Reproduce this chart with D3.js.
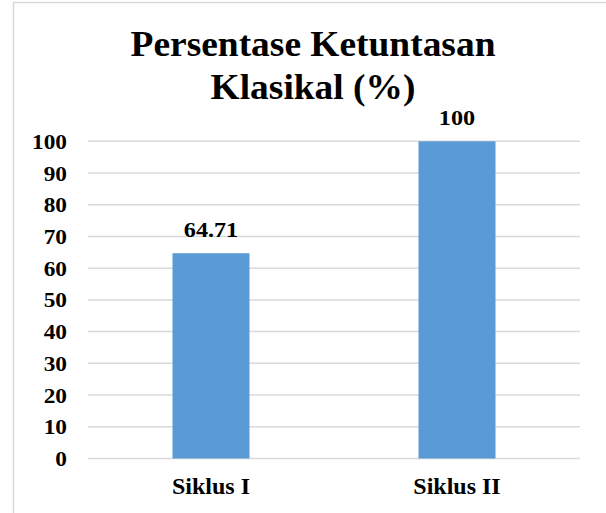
<!DOCTYPE html>
<html>
<head>
<meta charset="utf-8">
<script src="https://cdn.jsdelivr.net/npm/d3@7"></script>
<style>
html,body{margin:0;padding:0;background:#fff;}
svg{display:block;}
text{font-family:"Liberation Serif","Times New Roman",serif;font-weight:bold;fill:#000;}
</style>
</head>
<body>
<script>
const categories = ["Siklus I", "Siklus II"];
const values = [64.71, 100];
const valueLabels = ["64.71", "100"];
const yTicks = [0,10,20,30,40,50,60,70,80,90,100];
const titleLines = ["Persentase Ketuntasan", "Klasikal (%)"];

const W = 606, H = 513;
const svg = d3.select("body").append("svg").attr("width", W).attr("height", H);

// outer border
svg.append("rect").attr("x", 13.5).attr("y", 2.5).attr("width", 620).attr("height", 540)
  .attr("fill", "none").attr("stroke", "#D9D9D9").attr("stroke-width", 1.5);

const x = d3.scaleBand().domain(categories).range([88, 580])
  .paddingInner(0.687).paddingOuter(0.3435);
const y = d3.scaleLinear().domain([0, 100]).range([458.5, 141.3]);

// gridlines
svg.append("g").selectAll("line").data(yTicks).join("line")
  .attr("x1", 88).attr("x2", 580)
  .attr("y1", d => y(d)).attr("y2", d => y(d))
  .attr("stroke", "#D9D9D9").attr("stroke-width", 1.5);

// y labels
svg.append("g").selectAll("text").data(yTicks).join("text")
  .attr("transform", d => `translate(67,${y(d)}) scale(1.06,1)`)
  .attr("dy", "0.34em")
  .attr("text-anchor", "end").attr("font-size", 22)
  .text(d => d);

// bars
svg.append("g").selectAll("rect").data(values).join("rect")
  .attr("x", (d, i) => x(categories[i]))
  .attr("width", x.bandwidth())
  .attr("y", d => y(d))
  .attr("height", d => y(0) - y(d))
  .attr("fill", "#5B9BD5");

// value labels
svg.append("g").selectAll("text").data(values).join("text")
  .attr("transform", (d, i) => `translate(${x(categories[i]) + x.bandwidth() / 2},${y(d) - 16}) scale(1.1,1)`)
  .attr("text-anchor", "middle").attr("font-size", 22)
  .text((d, i) => valueLabels[i]);

// category labels
svg.append("g").selectAll("text").data(categories).join("text")
  .attr("x", d => x(d) + x.bandwidth() / 2)
  .attr("y", 493.5)
  .attr("text-anchor", "middle").attr("font-size", 24)
  .text(d => d);

// title
svg.append("g").selectAll("text").data(titleLines).join("text")
  .attr("transform", (d, i) => `translate(313,${56 + i * 43}) scale(1.04,1)`)
  .attr("text-anchor", "middle").attr("font-size", 36)
  .text(d => d);
</script>
</body>
</html>
